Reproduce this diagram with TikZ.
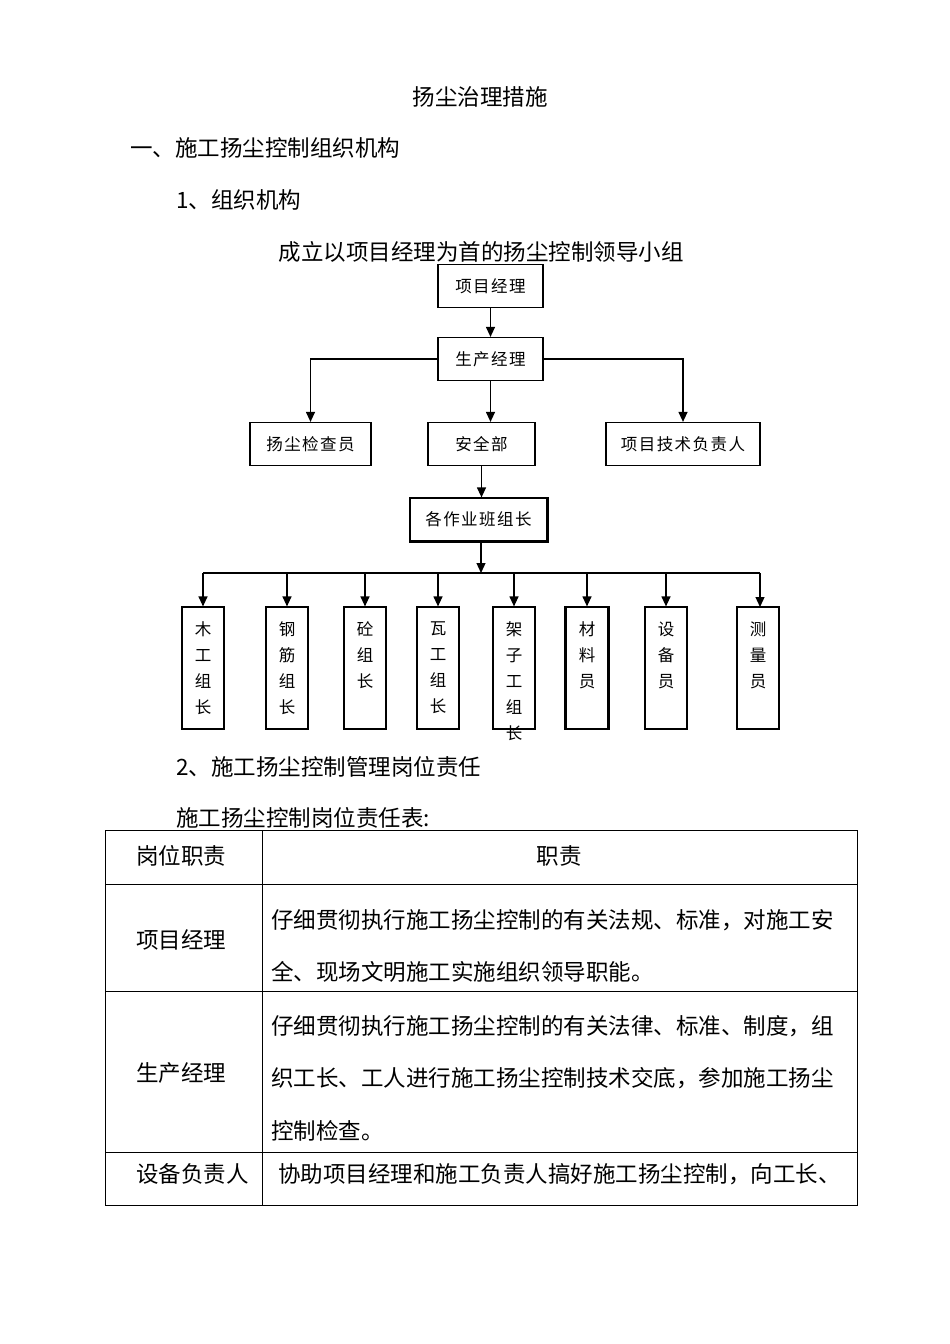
\documentclass[tikz,border=0pt]{standalone}
\usepackage{fontspec}
\usepackage{tikz}
\usetikzlibrary{positioning, arrows.meta}
\newfontfamily\cjk{Noto Sans CJK SC}
\newfontfamily\cjkbox[LetterSpace=9]{Noto Sans CJK SC}

\begin{document}
\begin{tikzpicture}[
            x=1pt, y=-1pt,
            every node/.style={font=\cjk\fontsize{22.5}{27}\selectfont, inner sep=0pt},
            txt/.style={anchor=west},
            box/.style={draw, line width=1.2pt, font=\cjkbox\fontsize{16.5}{20}\selectfont, minimum height=43pt},
            colbox/.style={draw, line width=1.2pt, minimum width=42pt, minimum height=122pt},
            coltext/.style={anchor=north, align=center, font=\cjk\fontsize{16.5}{26}\selectfont},
            arr/.style={-{Triangle[length=10pt,width=9pt]}, line width=1.2pt},
            tbl/.style={line width=0.9pt},
        ]
            \useasboundingbox (0,0) rectangle (950,1344);

            % headings
            \node (title) at (480,97) {扬尘治理措施};
            \node[txt] (sec1) at (130,148) {一、施工扬尘控制组织机构};
            \node[txt] (sub1) at (176,200) {1、组织机构};
            \node (caption) at (481,252) {成立以项目经理为首的扬尘控制领导小组};

            % chart
            \node[box, minimum width=105pt] (pm) at (490.5,286) {项目经理};
            \node[box, minimum width=105pt] (prod) at (490.5,359) {生产经理};
            \node[box, minimum width=121pt] (insp) at (310.5,444) {扬尘检查员};
            \node[box, minimum width=107pt] (safe) at (481.5,444) {安全部};
            \node[box, minimum width=154pt] (tech) at (683,444) {项目技术负责人};
            \node[box, minimum width=137pt] (team) at (478.5,519.5) {各作业班组长};
            \draw[line width=2.6pt] (team.north east) -- (team.south east) -- (team.south west);

            \draw[arr] (pm) -- (prod);
            \draw[arr] (prod.west) -| (insp.north);
            \draw[arr] (prod.east) -| (tech.north);
            \draw[arr] (prod.south) -- (prod.south |- safe.north);
            \draw[arr] (safe.south) -- (safe.south |- team.north);

            % groups
            \node[colbox] (mg) at (203,668) {};
            \node[colbox] (gj) at (287,668) {};
            \node[colbox] (tg) at (365,668) {};
            \node[colbox] (wg) at (438,668) {};
            \node[colbox] (jz) at (514,668) {};
            \node[colbox] (cl) at (587,668) {};
            \node[colbox] (sb) at (666,668) {};
            \node[colbox] (cy) at (758,668) {};
            \draw[line width=2.4pt] (cl.north west) -- (cl.south west) (cl.north east) -- (cl.south east);

            \node[coltext] (mgt) at ([yshift=-15pt]mg.north) {木\\工\\组\\长};
            \node[coltext] (gjt) at ([yshift=-15pt]gj.north) {钢\\筋\\组\\长};
            \node[coltext] (tgt) at ([yshift=-15pt]tg.north) {砼\\组\\长};
            \node[coltext] (wgt) at ([yshift=-15pt]wg.north) {瓦\\工\\组\\长};
            \node[coltext] (jzt) at ([yshift=-15pt]jz.north) {架\\子\\工\\组\\长};
            \node[coltext] (clt) at ([yshift=-15pt]cl.north) {材\\料\\员};
            \node[coltext] (sbt) at ([yshift=-15pt]sb.north) {设\\备\\员};
            \node[coltext] (cyt) at ([yshift=-15pt]cy.north) {测\\量\\员};

            \coordinate (bus) at (481,573);
            \draw[arr] (team.south -| bus) -- (bus);
            \draw[line width=1.2pt] (mg.north |- bus) -- (760,573);
            \foreach \g in {mg,gj,tg,wg,jz,cl,sb}
                \draw[arr] (\g.north |- bus) -- (\g.north);
            \draw[arr] (760,573) -- (760,607);

            % table
            \node[txt] (sub2) at (176,767) {2、施工扬尘控制管理岗位责任};
            \node[txt] (tabcap) at (176,818) {施工扬尘控制岗位责任表:};
            \draw[tbl] (105,830) rectangle (857,1205);
            \draw[tbl] (262,830) -- (262,1205);
            \draw[tbl] (105,884) -- (857,884);
            \draw[tbl] (105,991) -- (857,991);
            \draw[tbl] (105,1152) -- (857,1152);

            \node[txt] (h1) at (136,856) {岗位职责};
            \node (h2) at (559,856) {职责};
            \node[txt] (r1) at (136,940) {项目经理};
            \node[txt] (r1a) at (271,920) {仔细贯彻执行施工扬尘控制的有关法规、标准，对施工安};
            \node[txt] (r1b) at (271,972) {全、现场文明施工实施组织领导职能。};
            \node[txt] (r2) at (136,1073) {生产经理};
            \node[txt] (r2a) at (271,1026) {仔细贯彻执行施工扬尘控制的有关法律、标准、制度，组};
            \node[txt] (r2b) at (271,1078) {织工长、工人进行施工扬尘控制技术交底，参加施工扬尘};
            \node[txt] (r2c) at (271,1131) {控制检查。};
            \node[txt] (r3) at (136,1174) {设备负责人};
            \node[txt] (r3a) at (278,1174) {协助项目经理和施工负责人搞好施工扬尘控制，向工长、};
        \end{tikzpicture}
\end{document}
